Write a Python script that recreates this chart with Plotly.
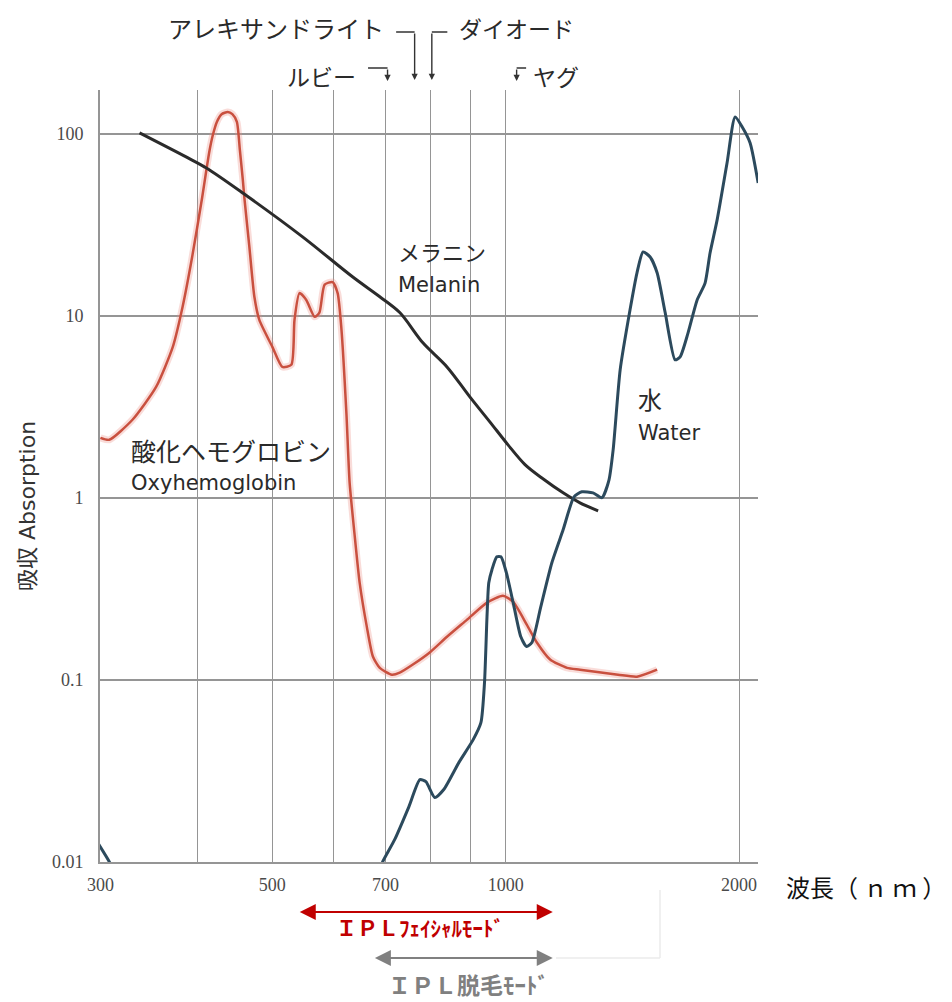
import math
import plotly.graph_objects as go

# ---------------- data ----------------
hb_nm = [300, 308, 330, 354, 372, 383, 394, 406, 411, 415, 419, 424, 430, 438, 444, 450,
         454, 458, 460, 467, 474, 481, 500, 515, 529, 534, 542, 553, 567, 575, 584, 598,
         607, 614, 623, 629, 638, 648, 662, 674, 688, 713, 730, 759, 798, 840, 891, 946,
         992, 1022, 1065, 1097, 1141, 1200, 1247, 1396, 1477, 1568]
hb_abs = [2.13, 2.08, 2.68, 4.06, 6.74, 11.2, 21.0, 44.9, 63.2, 81.4, 98.4, 116, 128, 131.6, 128, 116,
          81.4, 55.7, 44.9, 23.9, 12.7, 9.48, 6.74, 5.23, 5.37, 9.48, 13.3, 12.2, 9.85, 10.4, 14.8, 15.3,
          13.3, 8.36, 2.92, 1.21, 0.641, 0.341, 0.195, 0.134, 0.116, 0.1064, 0.1092, 0.121, 0.141, 0.172, 0.213, 0.265,
          0.289, 0.268, 0.200, 0.160, 0.129, 0.116, 0.1134, 0.1064, 0.1038, 0.1134]

mel_nm = [337, 387, 411, 458, 547, 635, 688, 730, 782, 840, 899, 954, 1007, 1059, 1117, 1186, 1247, 1316]
mel_abs = [101, 74.5, 64.8, 47.2, 27.1, 16.3, 12.7, 10.4, 7.09, 5.23, 3.58, 2.61, 1.95, 1.52, 1.27, 1.063, 0.937, 0.847]

water_nm = [295, 308, 312, None, 684, 694, 719, 750, 775, 789, 810, 832, 870, 908, 929, 939, 946, 951,
            960, 974, 986, 1002, 1025, 1046, 1064, 1081, 1110, 1147, 1186, 1225, 1254, 1296, 1331, 1359,
            1376, 1405, 1447, 1477, 1504, 1536, 1568, 1606, 1654, 1679, 1719, 1766, 1808, 1835, 1874, 1930,
            1977, 2019, 2067, 2117]
water_abs = [0.0135, 0.01, 0.009, None, 0.0085, 0.01, 0.0132, 0.020, 0.0282, 0.0275, 0.0225, 0.0249, 0.035, 0.0468, 0.058, 0.0962, 0.222, 0.341,
             0.402, 0.473, 0.473, 0.387, 0.252, 0.172, 0.152, 0.160, 0.252, 0.439, 0.666, 1.01, 1.077, 1.063, 1.00, 1.25,
             1.83, 5.04, 10.8, 17.2, 22.4, 21.0, 17.2, 10.4, 5.72, 5.94, 8.04, 12.2, 15.1, 22.1, 33.6, 69.0,
             123.5, 108.8, 88.9, 53.6]

x_grid = [300, 400, 500, 600, 700, 800, 900, 1000, 2000]
x_ticktext = ["300", "", "500", "", "700", "", "", "1000", "2000"]
y_ticks = [0.01, 0.1, 1, 10, 100]
y_ticktext = ["0.01", "0.1", "1", "10", "100"]

# laser wavelengths pointed at by the top arrows (nm)
laser_alex = 763
laser_diode = 803
laser_ruby = 704
laser_yag = 1033
# IPL mode ranges (nm)
ipl_facial = (540, 1150)
ipl_hair = (675, 1150)

# ---------------- figure ----------------
OFF = 8                      # page body margin of the browser
W, H = 952 - OFF, 1002 - OFF
ML, MR, MT, MB = 100 - OFF, 194, 90 - OFF, 140
PW, PH = W - ML - MR, H - MT - MB
PLOT_L, PLOT_B = 100, 862    # plot-area edges in screen pixels


def xp(px):
    return (px - PLOT_L) / PW


def yp(py):
    return (PLOT_B - py) / PH


RED = "#c9503f"
WATER = "#2c4a5d"
MEL = "#2b2b2b"
GRID = "#959595"

fig = go.Figure()
fig.add_trace(go.Scatter(x=hb_nm, y=hb_abs, mode="lines",
                         line=dict(color="rgba(235,140,128,0.30)", width=7, shape="spline", smoothing=0.6),
                         hoverinfo="skip"))
fig.add_trace(go.Scatter(x=hb_nm, y=hb_abs, mode="lines", name="Oxyhemoglobin",
                         line=dict(color=RED, width=2.5, shape="spline", smoothing=0.6)))
fig.add_trace(go.Scatter(x=mel_nm, y=mel_abs, mode="lines", name="Melanin",
                         line=dict(color=MEL, width=3, shape="spline", smoothing=0.9)))
fig.add_trace(go.Scatter(x=water_nm, y=water_abs, mode="lines", name="Water",
                         line=dict(color=WATER, width=3, shape="spline", smoothing=0.6),
                         connectgaps=False))

fig.update_layout(
    width=W, height=H, autosize=False,
    margin=dict(l=ML, r=MR, t=MT, b=MB, pad=0),
    paper_bgcolor="white", plot_bgcolor="white",
    showlegend=False,
    xaxis=dict(type="log", range=[math.log10(300) - 0.0005, 3.3255],
               tickmode="array", tickvals=x_grid, ticktext=x_ticktext,
               showgrid=True, gridcolor=GRID, gridwidth=1.4,
               showline=True, linecolor=GRID, linewidth=1.6,
               ticks="", zeroline=False, ticklabelstandoff=6,
               tickfont=dict(family="Liberation Serif", size=18, color="#4a4a4a")),
    yaxis=dict(type="log", range=[-2.002, 2.24],
               tickmode="array", tickvals=y_ticks, ticktext=y_ticktext,
               showgrid=True, gridcolor=GRID, gridwidth=1.6,
               showline=True, linecolor=GRID, linewidth=1.6,
               ticks="", zeroline=False, ticklabelstandoff=11,
               tickfont=dict(family="Liberation Serif", size=18, color="#4a4a4a")),
)

JP = "Noto Sans CJK JP"
EN = "DejaVu Sans, Noto Sans CJK JP"
TXT = "#2a2a2a"


def label(text, px, py, size, family=JP, color=TXT, xanchor="left", angle=0, bold=False):
    fig.add_annotation(text=("<b>%s</b>" % text) if bold else text,
                       x=xp(px), y=yp(py), xref="paper", yref="paper",
                       xanchor=xanchor, yanchor="middle", showarrow=False,
                       textangle=angle, font=dict(family=family, size=size, color=color))


label("アレキサンドライト", 166, 28, 24)
label("ダイオード", 457, 28, 23)
label("ルビー", 285, 76, 23)
label("ヤグ", 531, 76, 23)
label("メラニン", 396, 251, 22)
label("Melanin", 396, 285, 21, family=EN)
label("水", 636, 398, 24)
label("Water", 636, 433, 21, family=EN)
label("酸化ヘモグロビン", 129, 450, 25)
label("Oxyhemoglobin", 129, 483, 21, family=EN)
label("吸収 Absorption", 27, 506, 22, family=EN, xanchor="center", angle=-90, color="#333333")
label("波長（ ｎ ｍ ）", 784, 886, 24, color="#111111")
label("ＩＰＬﾌｪｲｼｬﾙﾓｰﾄﾞ", 420, 927, 21, color="#c00000", xanchor="center", bold=True)
label("ＩＰＬ脱毛ﾓｰﾄﾞ", 468, 984, 23, color="#808080", xanchor="center", bold=True)


def arrow(nm, py, ax, ay, head=True, color="#333333", width=1.4, size=0.9):
    fig.add_annotation(text="", x=math.log10(nm), y=yp(py), xref="x", yref="paper",
                       ax=ax, ay=ay, axref="pixel", ayref="pixel",
                       showarrow=True, arrowhead=2 if head else 0, arrowsize=size,
                       arrowwidth=width, arrowcolor=color, standoff=0)


# top bracket arrows
arrow(laser_alex, 80, 0, -48)
arrow(laser_alex, 32, -20, 0, head=False)
arrow(laser_diode, 80, 0, -48)
arrow(laser_diode, 32, 17, 0, head=False)
arrow(laser_ruby, 81, 0, -13)
arrow(laser_ruby, 68, -21, 0, head=False)
arrow(laser_yag, 81, 0, -13)
arrow(laser_yag, 68, 11, 0, head=False)

# IPL ranges (double headed)
for (lo, hi), py, col in [(ipl_facial, 912, "#c00000"), (ipl_hair, 958, "#808080")]:
    fig.add_annotation(text="", x=math.log10(hi), y=yp(py), xref="x", yref="paper",
                       ax=math.log10(lo), ay=0, axref="x", ayref="pixel",
                       showarrow=True, arrowside="end+start", arrowhead=2, startarrowhead=2,
                       arrowsize=1.6, startarrowsize=1.6, arrowwidth=2, arrowcolor=col,
                       standoff=0, startstandoff=0)

# faint bracket lines at the lower right of the ranges
fig.add_shape(type="line", xref="paper", yref="paper", x0=xp(556), x1=xp(660), y0=yp(958), y1=yp(958),
              line=dict(color="#ebebeb", width=1.5))
fig.add_shape(type="line", xref="paper", yref="paper", x0=xp(660), x1=xp(660), y0=yp(958), y1=yp(890),
              line=dict(color="#ebebeb", width=1.5))

fig.write_html("out.html")
